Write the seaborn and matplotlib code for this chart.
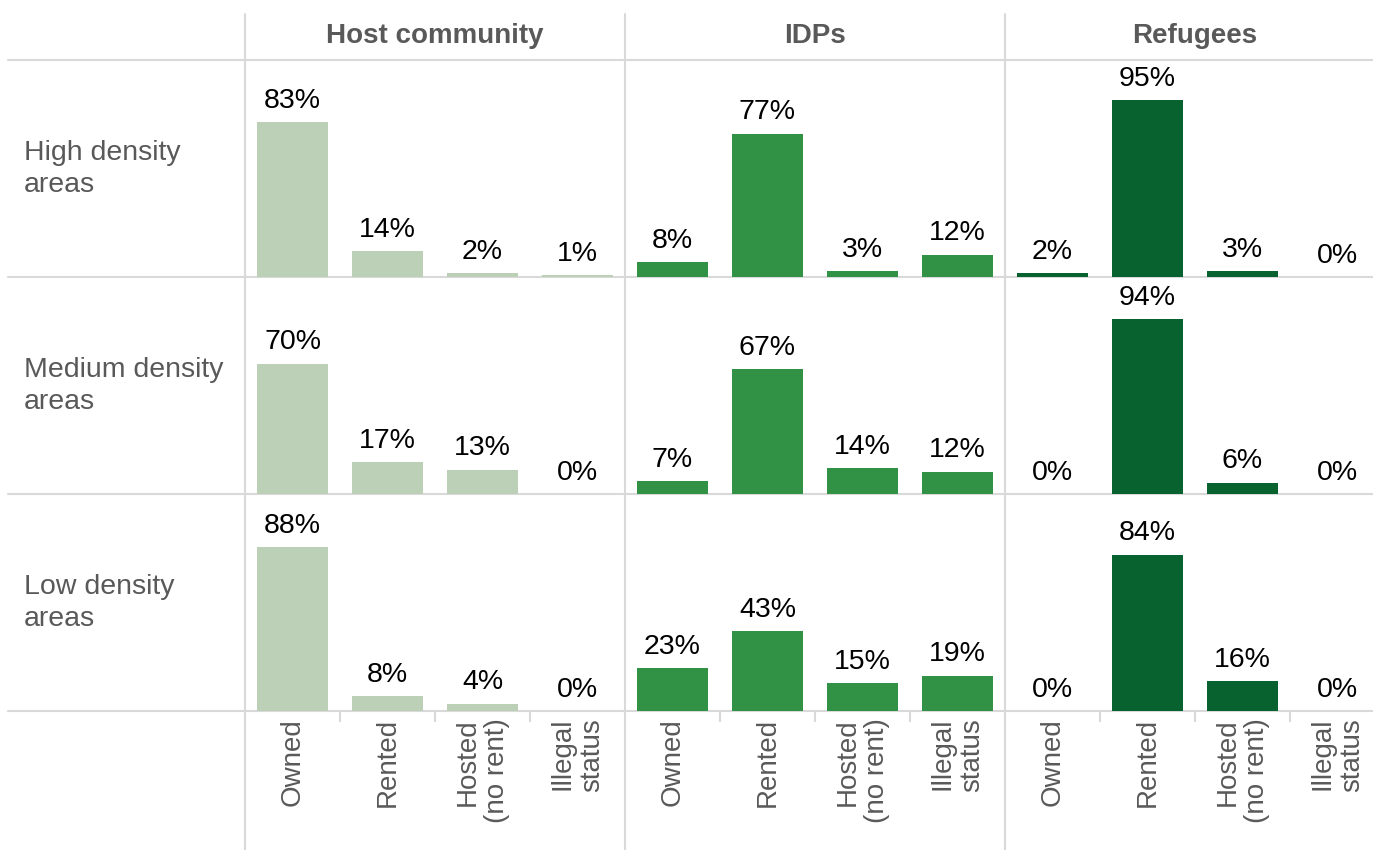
import pandas as pd
import matplotlib
matplotlib.use("Agg")
import matplotlib.pyplot as plt
from matplotlib.lines import Line2D
import seaborn as sns

# Data
groups = ["Host community", "IDPs", "Refugees"]
densities = ["High density\nareas", "Medium density\nareas", "Low density\nareas"]
tenure = ["Owned", "Rented", "Hosted\n(no rent)", "Illegal\nstatus"]

host = [[83, 14, 2, 1], [70, 17, 13, 0], [88, 8, 4, 0]]
idps = [[8, 77, 3, 12], [7, 67, 14, 12], [23, 43, 15, 19]]
refugees = [[2, 95, 3, 0], [0, 94, 6, 0], [0, 84, 16, 0]]

colors = ["#bbd0b6", "#319245", "#08622f"]

rows = []
for g, vals in zip(groups, [host, idps, refugees]):
    for d, v in zip(densities, vals):
        for t, x in zip(tenure, v):
            rows.append({"group": g, "density": d, "tenure": t, "pct": x})
df = pd.DataFrame(rows)

sns.set_style("white")
plt.rcParams["font.family"] = ["Liberation Sans", "DejaVu Sans"]

W, H = 1373, 850
fig = plt.figure(figsize=(W / 100, H / 100), dpi=100)

grey_txt = "#595959"
line_c = "#d9d9d9"

col_left = [245, 625, 1005]
col_w = 380
row_top = [60, 277, 494]
row_h = 217

for ci, g in enumerate(groups):
    for ri, d in enumerate(densities):
        ax = fig.add_axes([col_left[ci] / W, 1 - (row_top[ri] + row_h) / H,
                           col_w / W, row_h / H])
        sub = df[(df.group == g) & (df.density == d)]
        sns.barplot(data=sub, x="tenure", y="pct", order=tenure,
                    color=colors[ci], width=0.75, saturation=1, linewidth=0,
                    ax=ax)
        ax.bar_label(ax.containers[0], labels=[f"{v}%" for v in sub.pct],
                     padding=6, fontsize=20.5, color="black")
        ax.set_ylim(0, 116.5)
        ax.set_xlim(-0.5, 3.5)
        ax.set_xlabel("")
        ax.set_ylabel("")
        ax.set_yticks([])
        sns.despine(ax=ax, left=True, bottom=True)
        if ri == 2:
            ax.set_xticks(range(4))
            ax.set_xticklabels(tenure, rotation=90, fontsize=20, color=grey_txt,
                               va="top", ha="center", multialignment="right")
            ax.set_xticks([0.5, 1.5, 2.5], minor=True)
            ax.tick_params(axis="x", which="major", length=0, pad=5)
            ax.tick_params(axis="x", which="minor", length=8, width=1.5,
                           color=line_c, direction="out", bottom=True)
        else:
            ax.set_xticks([])
        ax.patch.set_alpha(0)

    fig.text((col_left[ci] + col_w / 2) / W, 1 - 36 / H, g, ha="center",
             va="center", fontsize=20, fontweight="bold", color=grey_txt)

for ri, d in enumerate(densities):
    fig.text(24 / W, 1 - (row_top[ri] + row_h / 2) / H, d, ha="left",
             va="center", fontsize=20.5, color=grey_txt, linespacing=1.3)

# table rules
for y in [60, 277, 494, 711]:
    fig.add_artist(Line2D([8 / W, 1], [1 - y / H, 1 - y / H], color=line_c,
                          lw=1.5, zorder=0))
for x in col_left:
    fig.add_artist(Line2D([x / W, x / W], [1 - 14 / H, 0], color=line_c,
                          lw=1.5, zorder=0))

fig.savefig("out.png", dpi=100)
